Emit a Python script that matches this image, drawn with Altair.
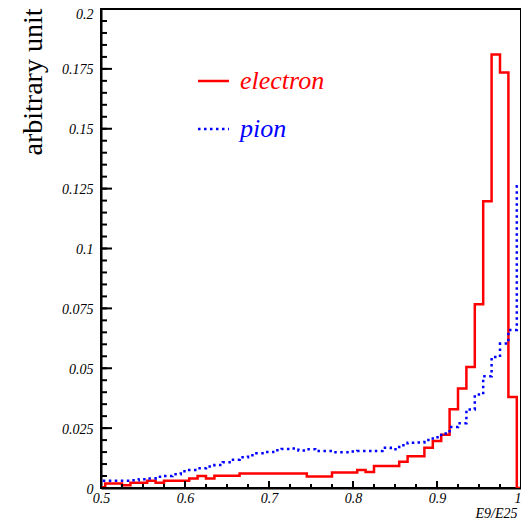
import altair as alt
import pandas as pd

# ---- data (bin centres 0.50 ... 1.00, width 0.01) ----
bin_centers = [round(0.50 + 0.01 * i, 2) for i in range(51)]

electron = [
    0.0003, 0.0019, 0.0019, 0.0012, 0.0022, 0.0022, 0.0030, 0.0022, 0.0030, 0.0030,
    0.0030, 0.0040, 0.0050, 0.0040, 0.0051, 0.0051, 0.0051, 0.0061, 0.0061, 0.0061,
    0.0061, 0.0061, 0.0061, 0.0061, 0.0061, 0.0048, 0.0048, 0.0048, 0.0065, 0.0065,
    0.0065, 0.0075, 0.0067, 0.0092, 0.0092, 0.0092, 0.0110, 0.0133, 0.0133, 0.0168,
    0.0196, 0.0222, 0.0329, 0.0415, 0.0505, 0.0767, 0.1197, 0.1810, 0.1735, 0.0380,
    0.0,
]

pion = [
    0.0030, 0.0030, 0.0030, 0.0030, 0.0032, 0.0037, 0.0040, 0.0047, 0.0050, 0.0057,
    0.0070, 0.0075, 0.0082, 0.0090, 0.0096, 0.0107, 0.0118, 0.0128, 0.0137, 0.0145,
    0.0150, 0.0158, 0.0163, 0.0165, 0.0157, 0.0162, 0.0154, 0.0154, 0.0149, 0.0149,
    0.0152, 0.0154, 0.0154, 0.0155, 0.0168, 0.0162, 0.0179, 0.0189, 0.0190, 0.0200,
    0.0212, 0.0228, 0.0255, 0.0270, 0.0328, 0.0390, 0.0467, 0.0547, 0.0603, 0.0660,
    0.1260,
]

x_ticks = [0.5, 0.6, 0.7, 0.8, 0.9, 1.0]
y_ticks = [0, 0.025, 0.05, 0.075, 0.1, 0.125, 0.15, 0.175, 0.2]
x_minor = [round(0.5 + 0.025 * i, 3) for i in range(21)]
y_minor = [round(0.005 * i, 3) for i in range(41)]

W, H = 420, 479
FONT = "Liberation Serif"


def step_frame(vals, name):
    edges = [round(c - 0.005, 3) for c in bin_centers] + [round(bin_centers[-1] + 0.005, 3)]
    return pd.DataFrame({"x": edges, "y": list(vals) + [vals[-1]], "series": name})


df_e = step_frame(electron, "electron")
df_p = step_frame(pion, "pion")

xscale = alt.Scale(domain=[0.5, 1.0], nice=False, zero=False)
yscale = alt.Scale(domain=[0, 0.2], nice=False, zero=False)

xaxis = alt.Axis(
    values=x_ticks, labelExpr="'' + datum.value", ticks=False, grid=False,
    domainColor="black", domainWidth=2,
    labelFont=FONT, labelFontStyle="italic", labelFontSize=14, labelColor="black",
    labelPadding=3, labelFlush=False,
    labelAlign={"condition": {"test": "datum.value >= 1", "value": "right"}, "value": "center"},
    title="E9/E25", titleFont=FONT, titleFontStyle="italic", titleFontWeight="normal",
    titleFontSize=14, titleColor="black", titleX=416, titleY=25,
    titleAlign="right", titleBaseline="middle",
)
yaxis = alt.Axis(
    values=y_ticks, labelExpr="'' + datum.value", ticks=False, grid=False,
    domainColor="black", domainWidth=2,
    labelFont=FONT, labelFontStyle="italic", labelFontSize=14, labelColor="black",
    labelPadding=8, labelFlush=False,
    labelOffset={"condition": {"test": "datum.value >= 0.2", "value": 5}, "value": 1},
    title="arbitrary unit", titleFont=FONT, titleFontWeight="normal",
    titleFontSize=28, titleColor="black", titleAngle=270,
    titleX=-68, titleY=-1, titleAlign="right", titleBaseline="middle",
)

electron_line = alt.Chart(df_e).mark_line(
    interpolate="step-after", color="#ff0000", strokeWidth=2.5, clip=True
).encode(
    x=alt.X("x:Q", scale=xscale, axis=xaxis),
    y=alt.Y("y:Q", scale=yscale, axis=yaxis),
)

pion_line = alt.Chart(df_p).mark_line(
    interpolate="step-after", color="#0000ff", strokeWidth=2.5,
    strokeDash=[2.5, 3.5], clip=True
).encode(
    x=alt.X("x:Q", scale=xscale, axis=xaxis),
    y=alt.Y("y:Q", scale=yscale, axis=yaxis),
)

# inward-pointing ticks
ymaj = alt.Chart(pd.DataFrame({"v": y_ticks})).mark_rule(color="black", strokeWidth=2).encode(
    y=alt.Y("v:Q", scale=yscale, axis=yaxis), x=alt.value(0), x2=alt.value(11))
ymin = alt.Chart(pd.DataFrame({"v": y_minor})).mark_rule(color="black", strokeWidth=2).encode(
    y=alt.Y("v:Q", scale=yscale, axis=yaxis), x=alt.value(0), x2=alt.value(6))
xmaj = alt.Chart(pd.DataFrame({"v": x_ticks})).mark_rule(color="black", strokeWidth=2).encode(
    x=alt.X("v:Q", scale=xscale, axis=xaxis), y=alt.value(H), y2=alt.value(H - 7))
xmin = alt.Chart(pd.DataFrame({"v": x_minor})).mark_rule(color="black", strokeWidth=2).encode(
    x=alt.X("v:Q", scale=xscale, axis=xaxis), y=alt.value(H), y2=alt.value(H - 4))

# legend drawn inside the frame
one = pd.DataFrame({"label": ["electron"]})
two = pd.DataFrame({"label": ["pion"]})
leg_e_line = alt.Chart(one).mark_rule(color="#ff0000", strokeWidth=2.5).encode(
    x=alt.value(97), x2=alt.value(128), y=alt.value(72))
leg_p_line = alt.Chart(two).mark_rule(color="#0000ff", strokeWidth=2.5, strokeDash=[2.5, 3.5]).encode(
    x=alt.value(97), x2=alt.value(128), y=alt.value(120))
leg_e_text = alt.Chart(one).mark_text(
    font=FONT, fontStyle="italic", fontSize=26, color="#ff0000", align="left", baseline="middle"
).encode(text="label:N", x=alt.value(139), y=alt.value(72))
leg_p_text = alt.Chart(two).mark_text(
    font=FONT, fontStyle="italic", fontSize=26, color="#0000ff", align="left", baseline="middle"
).encode(text="label:N", x=alt.value(139), y=alt.value(120))

chart = alt.layer(
    electron_line, pion_line, ymaj, ymin, xmaj, xmin,
    leg_e_line, leg_p_line, leg_e_text, leg_p_text,
).properties(
    width=W, height=H,
    autosize=alt.AutoSizeParams(type="none"),
    padding={"left": 93, "top": 1, "right": 0, "bottom": 35},
    background="white",
).configure_view(
    stroke="black", strokeWidth=2
)

chart.save("out.html", embed_options={"renderer": "svg", "actions": False})
